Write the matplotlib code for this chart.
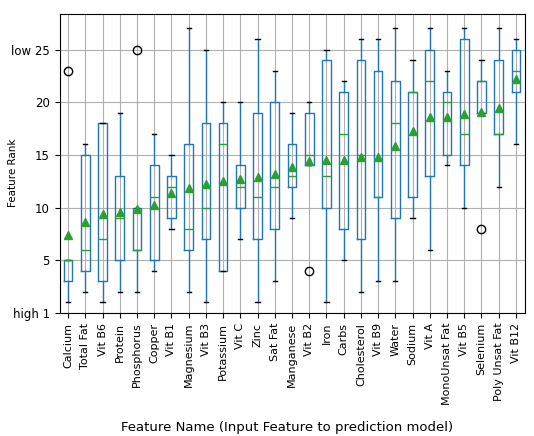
import matplotlib
matplotlib.use("Agg")
import matplotlib.pyplot as plt

categories = ["Calcium", "Total Fat", "Vit B6", "Protein", "Phosphorus", "Copper",
              "Vit B1", "Magnesium", "Vit B3", "Potassium", "Vit C", "Zinc", "Sat Fat",
              "Manganese", "Vit B2", "Iron", "Carbs", "Cholesterol", "Vit B9", "Water",
              "Sodium", "Vit A", "MonoUnsat Fat", "Vit B5", "Selenium", "Poly Unsat Fat",
              "Vit B12"]
whislo = [1, 2, 1, 2, 2, 4, 8, 2, 1, 4, 7, 1, 3, 9, 14, 1, 5, 2, 3, 3, 9, 6, 14, 10, 19, 12, 16]
q1 =     [3, 4, 3, 5, 6, 5, 9, 6, 7, 4, 10, 7, 8, 12, 14, 10, 8, 7, 11, 9, 11, 13, 15, 14, 19, 17, 21]
med =    [5, 6, 7, 9, 6, 11, 12, 8, 10, 16, 12, 11, 12, 13, 15, 13, 17, 15, 11, 18, 21, 22, 20, 17, 22, 17, 23]
q3 =     [5, 15, 18, 13, 10, 14, 13, 16, 18, 18, 14, 19, 20, 16, 19, 24, 21, 24, 23, 22, 21, 25, 21, 26, 22, 24, 25]
whishi = [5, 16, 18, 19, 10, 17, 15, 27, 25, 20, 20, 26, 23, 19, 20, 25, 22, 26, 26, 27, 24, 27, 23, 27, 24, 27, 26]
means =  [7.4, 8.6, 9.43, 9.62, 9.83, 10.26, 11.41, 11.84, 12.26, 12.48, 12.69, 12.86, 13.21,
          13.85, 14.44, 14.55, 14.55, 14.82, 14.82, 15.82, 17.25, 18.62, 18.62, 18.84, 19.05,
          19.48, 22.23]
fliers = {"Calcium": [23], "Phosphorus": [25], "Vit B2": [4], "Selenium": [8]}

ytick_vals = [0, 5, 10, 15, 20, 25]
ytick_labels = ["high 1", "5", "10", "15", "20", "low 25"]

stats = []
for i, c in enumerate(categories):
    stats.append(dict(label=c, whislo=whislo[i], q1=q1[i], med=med[i], q3=q3[i],
                      whishi=whishi[i], mean=means[i], fliers=fliers.get(c, [])))

fig = plt.figure(figsize=(5.34, 4.36), dpi=100)
ax = fig.add_axes([59.5 / 534, 1 - 313 / 436, 465 / 534, 299 / 436])

ax.bxp(stats, showmeans=True, widths=0.5, patch_artist=False,
       boxprops=dict(color="C0", linewidth=1.0),
       whiskerprops=dict(color="C0", linewidth=1.0),
       capprops=dict(color="k", linewidth=1.0),
       medianprops=dict(color="C2", linewidth=1.0),
       meanprops=dict(marker="^", markerfacecolor="C2", markeredgecolor="C2", markersize=6),
       flierprops=dict(marker="o", markerfacecolor="none", markeredgecolor="k", markersize=6))

ax.set_xlim(0.5, len(categories) + 0.5)
ax.set_ylim(0, 28.37)
ax.grid(True, color="#b0b0b0", linewidth=0.8)
ax.set_axisbelow(True)
ax.set_yticks(ytick_vals)
ax.set_yticklabels(ytick_labels, fontsize=8.5)
ax.set_xticks(range(1, len(categories) + 1))
ax.set_xticklabels(categories, rotation=90, fontsize=8)

ax.set_ylabel("Feature Rank", fontsize=7.5)
ax.yaxis.set_label_coords(-0.089, 0.47)
ax.set_xlabel("Feature Name (Input Feature to prediction model)", fontsize=9.5)
ax.xaxis.set_label_coords(0.49, -0.36)

fig.savefig("out.png", dpi=100)
